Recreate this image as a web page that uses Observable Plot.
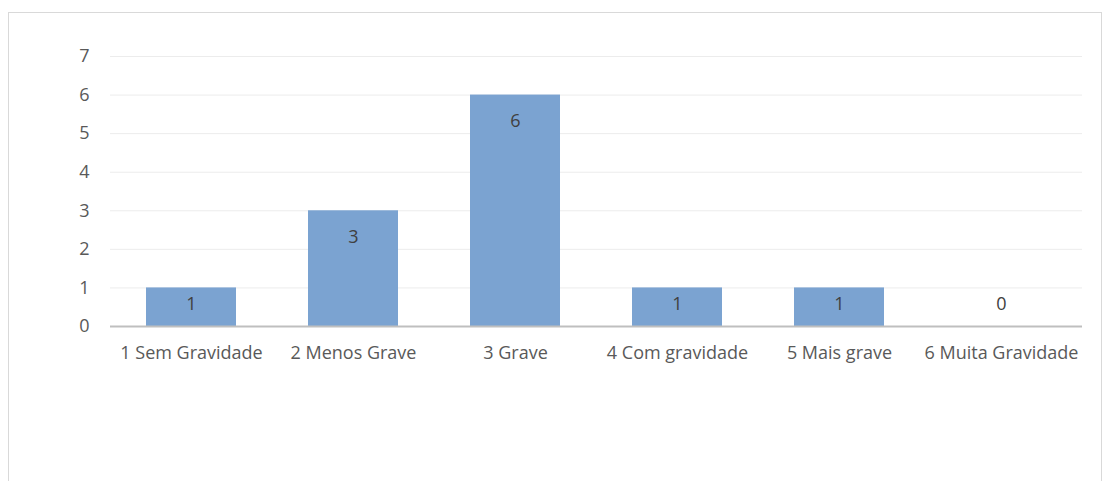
<!DOCTYPE html>
<html>
<head>
<meta charset="utf-8">
<script src="https://cdn.jsdelivr.net/npm/d3@7"></script>
<script src="https://cdn.jsdelivr.net/npm/@observablehq/plot@0.6"></script>
<style>
  html, body { margin: 0; padding: 0; background: #fff; }
  #wrap { position: relative; width: 1114px; height: 481px; overflow: hidden; }
  #border { position: absolute; left: 8px; top: 12px; width: 1094px; height: 520px; border: 1px solid #d9d9d9; box-sizing: border-box; }
  #chart { position: absolute; left: 0; top: 0; }
</style>
</head>
<body>
<div id="wrap"><div id="border"></div><div id="chart"></div></div>
<script>
const categories = ["1 Sem Gravidade", "2 Menos Grave", "3 Grave", "4 Com gravidade", "5 Mais grave", "6 Muita Gravidade"];
const values = [1, 3, 6, 1, 1, 0];
const yTicks = [0, 1, 2, 3, 4, 5, 6, 7];

const data = categories.map((c, i) => ({category: c, value: values[i]}));
const font = "'Open Sans', sans-serif";

const chart = Plot.plot({
  width: 1114,
  height: 481,
  marginLeft: 110,
  marginRight: 32,
  marginTop: 56,
  marginBottom: 155,
  style: {fontFamily: font, background: "transparent"},
  x: {domain: categories, paddingInner: 0.445, paddingOuter: 0.2225, label: null},
  y: {domain: [0, 7], label: null},
  marks: [
    Plot.ruleY(yTicks.filter(t => t > 0), {stroke: "#ececec", strokeWidth: 1}),
    Plot.barY(data, {x: "category", y: "value", fill: "#7ba3d1"}),
    Plot.ruleY([0], {stroke: "#bfbfbf", strokeWidth: 2}),
    Plot.axisY({ticks: yTicks, tickFormat: d3.format("d"), tickSize: 0, tickPadding: 21, fontSize: 18, fill: "#595959", label: null}),
    Plot.axisX({tickSize: 0, tickPadding: 20, fontSize: 18, fill: "#595959", label: null}),
    Plot.text(data, {x: "category", y: d => Math.max(d.value, 1.26), text: d => String(d.value), dy: 26, fill: "#404040", fontSize: 18})
  ]
});
document.getElementById("chart").appendChild(chart);
</script>
</body>
</html>
